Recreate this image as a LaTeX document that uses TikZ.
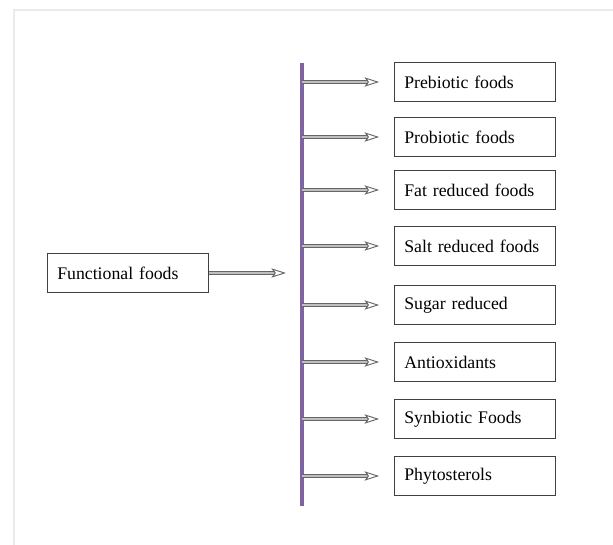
\documentclass[tikz,border=0pt]{standalone}
\usepackage{xcolor}
\usepackage{fontspec}
\setmainfont[WordSpace=0.6]{Liberation Serif}
\usetikzlibrary{arrows.meta}

\definecolor{barpurple}{RGB}{128,100,162}
\tikzset{
  foodbox/.style={draw=black!75, line width=0.8pt, text width=106pt, align=left,
    inner xsep=7.5pt, minimum height=29pt, font=\fontsize{13.3}{15}\selectfont},
  dblarrow/.style={draw=black!60, double=black!25, double distance=1.9pt, line width=0.7pt,
    -{Stealth[open,length=11pt,width=7pt,inset=2.5pt]}, shorten >=11pt}
}

\begin{document}
\begin{tikzpicture}[x=0.75pt,y=-0.75pt]
\useasboundingbox (0,0) rectangle (613,545);
\draw[black!8, line width=0.8pt] (14,545) -- (14,10) -- (613,10);

\node[foodbox] (ff) at (128,273) {Functional foods};

\node[foodbox] (pre) at (475,82) {Prebiotic foods};
\node[foodbox] (pro) at (475,137) {Probiotic foods};
\node[foodbox] (fat) at (475,190) {Fat reduced foods};
\node[foodbox] (salt) at (475,246) {Salt reduced foods};
\node[foodbox] (sugar) at (475,305) {Sugar reduced};
\node[foodbox] (anti) at (475,362) {Antioxidants};
\node[foodbox] (syn) at (475,419) {Synbiotic Foods};
\node[foodbox] (phyto) at (475,476) {Phytosterols};

\coordinate (bartop) at (302,63);
\coordinate (barbot) at (302,506);
\draw[barpurple, line width=2.3pt] (bartop) -- (barbot);

\draw[dblarrow, shorten >=12pt] (ff.east) -- (bartop|-ff.east);

\draw[dblarrow] (bartop|-pre.west) -- (pre.west);
\draw[dblarrow] (bartop|-pro.west) -- (pro.west);
\draw[dblarrow] (bartop|-fat.west) -- (fat.west);
\draw[dblarrow] (bartop|-salt.west) -- (salt.west);
\draw[dblarrow] (bartop|-sugar.west) -- (sugar.west);
\draw[dblarrow] (bartop|-anti.west) -- (anti.west);
\draw[dblarrow] (bartop|-syn.west) -- (syn.west);
\draw[dblarrow] (bartop|-phyto.west) -- (phyto.west);
\end{tikzpicture}
\end{document}
